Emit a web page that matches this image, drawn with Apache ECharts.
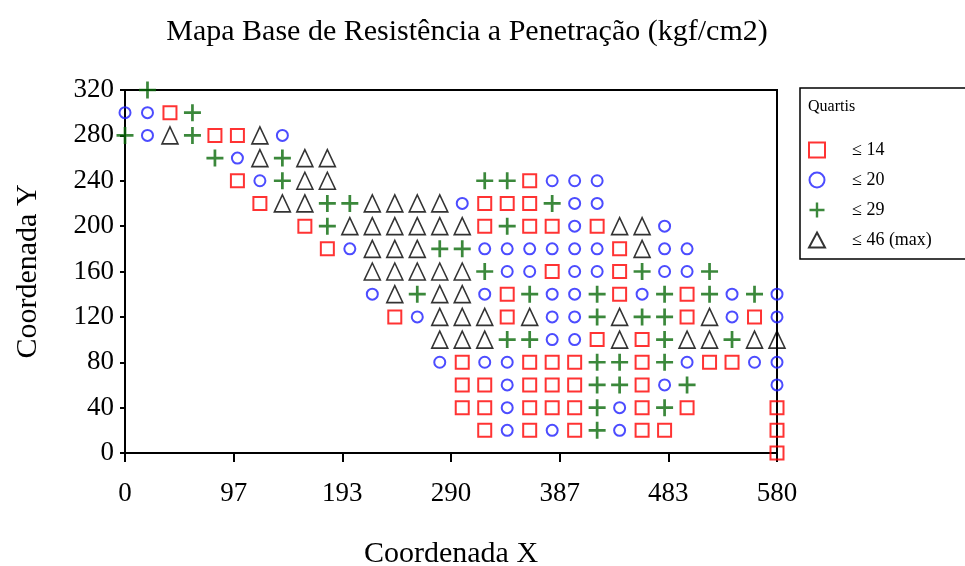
<!DOCTYPE html>
<html>
<head>
<meta charset="utf-8">
<script src="https://cdn.jsdelivr.net/npm/echarts@6/dist/echarts.min.js"></script>
<style>
  html, body { margin: 0; padding: 0; background: #fff; }
  #chart { width: 965px; height: 566px; }
</style>
</head>
<body>
<div id="chart"></div>
<script>
// quartil classes
const names = ['≤ 14', '≤ 20', '≤ 29', '≤ 46 (max)']

// x tick labels shown on the axis
const xTicks = [0, 97, 193, 290, 387, 483, 580]

// points [x, y] by class
const q1 = [
  [40, 300], [80, 280], [100, 280], [100, 240], [360, 240], [120, 220], [320, 220], [340, 220], [360, 220],
  [160, 200], [320, 200], [360, 200], [380, 200], [420, 200], [180, 180], [440, 180], [380, 160], [440, 160],
  [340, 140], [440, 140], [500, 140], [240, 120], [340, 120], [500, 120], [560, 120], [420, 100], [460, 100],
  [300, 80], [360, 80], [380, 80], [400, 80], [460, 80], [520, 80], [540, 80],
  [300, 60], [320, 60], [360, 60], [380, 60], [400, 60], [460, 60],
  [300, 40], [320, 40], [360, 40], [380, 40], [400, 40], [460, 40], [500, 40], [580, 40],
  [320, 20], [360, 20], [400, 20], [460, 20], [480, 20], [580, 20], [580, 0]
]
const q2 = [
  [0, 300], [20, 300], [20, 280], [140, 280], [100, 260], [120, 240], [380, 240], [400, 240], [420, 240],
  [300, 220], [400, 220], [420, 220], [400, 200], [480, 200],
  [200, 180], [320, 180], [340, 180], [360, 180], [380, 180], [400, 180], [420, 180], [480, 180], [500, 180],
  [340, 160], [360, 160], [400, 160], [420, 160], [480, 160], [500, 160],
  [220, 140], [320, 140], [380, 140], [400, 140], [460, 140], [540, 140], [580, 140],
  [260, 120], [380, 120], [400, 120], [540, 120], [580, 120], [380, 100], [400, 100],
  [280, 80], [320, 80], [340, 80], [500, 80], [560, 80], [580, 80],
  [340, 60], [480, 60], [580, 60], [340, 40], [440, 40], [340, 20], [380, 20], [440, 20]
]
const q3 = [
  [20, 320], [60, 300], [0, 280], [60, 280], [80, 260], [140, 260], [140, 240], [320, 240], [340, 240],
  [180, 220], [200, 220], [380, 220], [180, 200], [340, 200], [280, 180], [300, 180],
  [320, 160], [460, 160], [520, 160], [260, 140], [360, 140], [420, 140], [480, 140], [520, 140], [560, 140],
  [420, 120], [460, 120], [480, 120], [340, 100], [360, 100], [480, 100], [540, 100],
  [420, 80], [440, 80], [480, 80], [420, 60], [440, 60], [500, 60], [420, 40], [480, 40], [420, 20]
]
const q4 = [
  [40, 280], [120, 280], [120, 260], [160, 260], [180, 260], [160, 240], [180, 240],
  [140, 220], [160, 220], [220, 220], [240, 220], [260, 220], [280, 220],
  [200, 200], [220, 200], [240, 200], [260, 200], [280, 200], [300, 200], [440, 200], [460, 200],
  [220, 180], [240, 180], [260, 180], [460, 180], [220, 160], [240, 160], [260, 160], [280, 160], [300, 160],
  [240, 140], [280, 140], [300, 140], [280, 120], [300, 120], [320, 120], [360, 120], [440, 120], [520, 120],
  [280, 100], [300, 100], [320, 100], [440, 100], [500, 100], [520, 100], [560, 100], [580, 100]
]

const font = 'Liberation Serif'
const plusPath = 'path://M4.2,0h1.6v10h-1.6z M0,4.2h10v1.6h-10z'

const chart = echarts.init(document.getElementById('chart'))
const option = {
  backgroundColor: '#fff',
  animation: false,
  title: {
    text: 'Mapa Base de Resistência a Penetração (kgf/cm2)',
    left: 462,
    top: 12,
    textAlign: 'center',
    textStyle: { fontFamily: font, fontSize: 30, fontWeight: 'normal', color: '#000' }
  },
  graphic: [{
    type: 'text',
    left: 808,
    top: 99,
    style: { text: 'Quartis', font: '16px "Liberation Serif"', fill: '#000' }
  }],
  legend: {
    orient: 'vertical',
    left: 800,
    top: 88,
    padding: [53, 40, 10, 8],
    borderColor: '#000',
    borderWidth: 1.5,
    itemGap: 12,
    itemWidth: 16,
    itemHeight: 15,
    textStyle: { fontFamily: font, fontSize: 18, color: '#000', padding: [0, 0, 0, 22] },
    data: names
  },
  grid: {
    left: 125, right: 188, top: 90, bottom: 113,
    outerBoundsMode: 'none',
    show: true, borderColor: '#000', borderWidth: 2
  },
  xAxis: {
    type: 'value',
    min: 0,
    max: 580,
    interval: 580 / 6,
    name: 'Coordenada X',
    nameLocation: 'middle',
    nameGap: 86,
    nameTextStyle: { fontFamily: font, fontSize: 30, color: '#000' },
    axisLine: { lineStyle: { color: '#000', width: 2 } },
    axisTick: { show: true, length: 9, lineStyle: { color: '#000', width: 2 } },
    splitLine: { show: false },
    axisLabel: {
      margin: 27,
      fontFamily: font, fontSize: 27, color: '#000',
      formatter: v => xTicks[Math.round(v / (580 / 6))]
    }
  },
  yAxis: {
    type: 'value',
    min: 0,
    max: 320,
    interval: 40,
    name: 'Coordenada Y',
    nameLocation: 'middle',
    nameGap: 82,
    nameTextStyle: { fontFamily: font, fontSize: 30, color: '#000' },
    axisLine: { show: true, lineStyle: { color: '#000', width: 2 } },
    axisTick: { show: true, length: 5, lineStyle: { color: '#000', width: 2 } },
    splitLine: { show: false },
    axisLabel: { margin: 11, fontFamily: font, fontSize: 27, color: '#000' }
  },
  series: [
    {
      name: names[0], type: 'scatter', data: q1, clip: false,
      symbol: 'rect', symbolSize: 13,
      itemStyle: { color: 'rgba(0,0,0,0)', borderColor: '#ff0000', borderWidth: 2 }
    },
    {
      name: names[1], type: 'scatter', data: q2, clip: false,
      symbol: 'circle', symbolSize: 11,
      itemStyle: { color: 'rgba(0,0,0,0)', borderColor: '#1f1fff', borderWidth: 2 }
    },
    {
      name: names[2], type: 'scatter', data: q3, clip: false,
      symbol: plusPath, symbolSize: 17,
      itemStyle: { color: '#0a6a0a' }
    },
    {
      name: names[3], type: 'scatter', data: q4, clip: false,
      symbol: 'triangle', symbolSize: [16, 17],
      itemStyle: { color: 'rgba(0,0,0,0)', borderColor: '#000', borderWidth: 1.6 }
    }
  ]
}
chart.setOption(option)
</script>
</body>
</html>
